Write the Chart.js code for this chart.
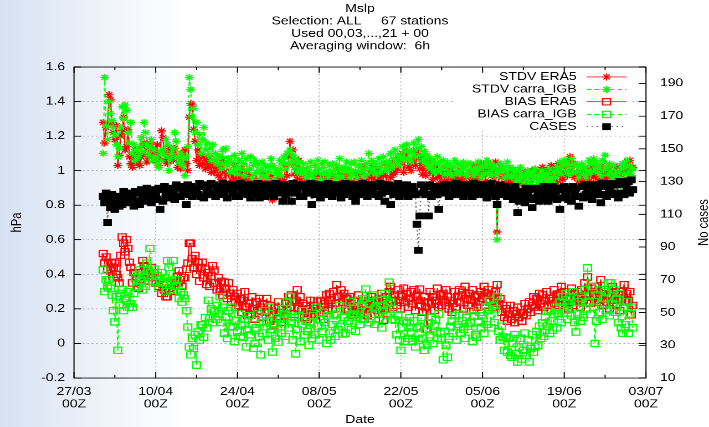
<!DOCTYPE html>
<html>
<head>
<meta charset="utf-8">
<title>Mslp scores</title>
<script src="https://cdn.jsdelivr.net/npm/chart.js@4/dist/chart.umd.min.js"></script>
<style>
  html, body {
    margin: 0; padding: 0; width: 709px; height: 427px; overflow: hidden;
    background: linear-gradient(to right, #d6e1f2 0px, #e7eef8 70px, #f7f9fd 140px, #ffffff 190px);
  }
  /* the chart is laid out on a 640x480 page and stretched to 709x427 */
  #wrap {
    position: absolute; left: 0; top: 0; width: 640px; height: 480px;
    transform: scale(1.1078125, 0.8895833); transform-origin: 0 0;
  }
</style>
</head>
<body>
<div id="wrap"><canvas id="c" width="640" height="480"></canvas></div>
<script>
// 6-hourly scores, 01/04 00Z .. 30/06 18Z (x = days after 27/03 00Z)
const FIRST_DAY = 5;
const STEP_DAYS = 0.25;

const STDV_ERA5 = [
  1.28,1.16,1.25,1.27, 1.44,1.41,1.28,1.22, 1.18,1.26,1.03,1.09, 1.20,1.23,1.31,1.12, 1.14,1.24,1.08,1.04,
  1.02,1.07,1.12,1.05, 1.10,1.03,1.08,1.14, 1.16,1.09,1.05,1.13, 1.16,1.08,1.12,1.06, 1.10,1.15,1.03,1.07,
  1.23,1.19,1.06,1.10, 1.04,1.13,1.08,1.11, 1.06,1.13,1.09,1.02, 1.07,1.01,1.10,1.05, 1.12,1.04,1.00,1.31,
  1.39,1.38,1.24,1.17, 1.06,1.12,1.03,1.09, 1.04,1.08,1.01,1.06, 1.02,1.07,0.99,1.04, 0.99,1.05,1.01,0.97,
  1.02,0.95,1.06,0.99, 0.93,1.04,0.98,0.91, 0.99,0.94,1.03,0.96, 0.90,0.98,0.93,1.01, 0.95,0.88,0.99,0.92,
  0.97,0.90,0.94,0.86, 0.92,0.99,0.89,0.95, 0.87,0.93,0.98,0.90, 0.94,0.85,0.91,0.97, 0.83,0.92,0.88,0.95,
  0.99,0.91,0.96,0.89, 0.94,1.03,0.97,1.08, 1.17,1.04,1.12,0.98, 1.02,0.95,1.06,0.92, 0.97,0.90,0.95,0.87,
  0.93,0.98,0.88,0.94, 0.90,0.96,0.92,0.99, 0.95,0.89,0.97,0.93, 0.98,0.92,0.87,0.95, 0.91,0.97,0.94,0.89,
  0.96,1.01,0.92,0.98, 0.89,0.95,0.99,0.93, 0.97,0.91,0.94,0.88, 0.93,0.99,0.90,0.96, 0.98,0.92,1.02,0.94,
  0.91,0.97,0.93,1.00, 0.96,1.03,0.94,0.99, 1.01,0.95,0.98,0.92, 0.97,1.04,0.93,1.00, 1.02,0.96,1.05,0.98,
  0.99,1.06,1.01,1.08, 1.04,1.10,0.99,1.07, 1.11,1.02,1.06,1.00, 1.05,1.11,1.03,1.08, 1.10,1.01,1.07,0.98,
  1.04,0.97,1.06,1.01, 0.99,1.05,0.95,1.02, 1.03,0.96,1.00,0.93, 0.97,1.02,0.94,0.99, 0.92,0.98,1.01,0.95,
  0.99,0.93,0.97,0.90, 0.95,1.00,0.92,0.97, 0.90,0.96,0.99,0.93, 0.98,0.92,1.03,0.96, 1.02,0.95,0.99,1.04,
  0.97,1.03,0.94,1.00, 1.05,0.98,1.02,0.96, 1.00,1.05,0.645,0.99, 1.02,0.96,0.99,0.93, 0.97,0.91,0.95,0.99,
  0.93,0.97,0.90,0.95, 0.98,0.92,0.96,0.89, 0.94,0.99,0.91,0.96, 0.97,0.93,1.00,0.95, 1.01,0.96,0.99,0.94,
  0.97,1.02,0.94,0.99, 1.00,0.86,0.97,1.03, 0.95,1.01,0.98,0.93, 1.04,0.97,1.02,0.95, 0.99,1.05,0.97,1.03,
  1.08,1.00,1.04,0.96, 0.98,1.03,0.94,1.00, 0.95,0.99,0.92,0.97, 1.01,0.94,0.99,1.03, 0.96,1.02,0.97,0.93,
  1.00,0.95,1.03,0.98, 0.94,1.00,0.96,1.02, 0.99,0.93,0.98,0.95, 1.02,0.97,0.94,1.00, 0.96,1.03,0.99,1.05,
  1.01,1.06,0.97,1.02
];

const STDV_CARRA = [
  1.10,1.54,1.26,1.18, 1.40,1.33,1.29,1.25, 1.21,1.15,1.08,1.13, 1.25,1.37,1.30,1.38, 1.35,1.22,1.16,1.28,
  1.10,1.15,1.06,1.12, 1.08,1.14,1.19,1.11, 1.28,1.22,1.15,1.09, 1.13,1.18,1.06,1.12, 1.08,1.04,1.02,1.11,
  1.06,1.12,1.09,1.18, 1.15,1.00,1.07,1.10, 1.13,1.22,1.17,1.08, 1.05,1.10,1.03,1.07, 0.97,1.08,1.14,1.54,
  1.47,1.31,1.36,1.22, 1.28,1.15,1.21,1.10, 1.18,1.25,1.12,1.16, 1.09,1.13,1.06,1.15, 1.06,1.10,1.04,1.08,
  1.08,1.01,1.12,1.04, 1.13,1.03,1.07,0.99, 1.05,1.00,1.09,1.02, 0.98,1.06,1.01,1.10, 1.04,0.97,1.07,1.00,
  1.01,1.08,0.96,1.03, 1.06,0.99,1.04,0.95, 1.00,1.05,0.97,1.03, 0.96,1.02,0.99,1.07, 1.03,0.95,1.01,0.98,
  1.00,1.06,0.97,1.04, 1.08,1.01,1.10,1.04, 1.12,1.05,1.09,1.02, 1.07,0.99,1.05,1.01, 0.98,1.04,1.00,0.96,
  1.02,0.97,1.05,0.99, 0.96,1.03,0.99,1.06, 1.01,0.95,1.04,0.98, 1.05,0.99,0.96,1.03, 0.98,1.04,1.00,0.95,
  1.03,0.97,1.07,1.00, 0.96,1.02,0.99,1.05, 1.01,0.96,1.04,0.98, 1.05,1.00,0.96,1.03, 0.99,1.06,1.01,0.97,
  1.04,0.98,1.10,1.01, 1.06,1.00,1.04,0.98, 1.02,1.07,0.99,1.04, 1.08,1.01,1.05,1.00, 1.04,1.10,1.02,1.07,
  1.12,1.05,1.09,1.03, 1.08,1.14,1.06,1.11, 1.15,1.07,1.12,1.05, 1.10,1.16,1.08,1.13, 1.18,1.09,1.14,1.06,
  1.11,1.04,1.09,1.02, 1.07,1.01,1.05,0.99, 1.04,1.08,1.00,1.05, 1.01,1.06,0.98,1.03, 1.05,0.99,1.03,0.97,
  1.02,1.06,0.99,1.04, 0.98,1.03,1.00,1.05, 1.02,0.97,1.04,0.99, 1.04,1.00,0.97,1.02, 0.99,1.05,1.01,0.96,
  1.03,0.98,1.02,1.06, 0.99,1.04,0.97,1.01, 1.03,0.98,0.60,1.00, 1.04,0.99,1.02,0.96, 1.00,1.05,0.97,1.02,
  0.96,1.01,0.98,0.94, 1.00,0.95,1.02,0.97, 0.93,0.98,0.95,1.00, 0.97,0.92,0.99,0.95, 1.01,0.96,0.93,0.98,
  0.95,1.00,0.97,0.92, 0.98,0.94,1.01,0.96, 0.93,0.99,0.96,1.02, 1.00,1.05,0.98,1.03, 1.06,1.00,1.04,0.98,
  1.02,1.07,0.99,1.04, 0.99,1.03,0.96,1.01, 1.04,0.98,1.02,0.96, 1.00,1.06,0.99,1.04, 1.07,1.01,1.05,0.99,
  1.03,0.97,1.06,1.00, 1.09,1.02,0.98,1.04, 1.00,0.95,1.03,0.97, 0.99,0.86,0.96,1.01, 1.04,0.98,1.02,1.06,
  0.99,1.03,0.97,1.01
];

const BIAS_ERA5 = [
  0.52,0.465,0.50,0.43, 0.37,0.42,0.47,0.44, 0.465,0.40,0.38,0.35, 0.51,0.616,0.58,0.53, 0.60,0.55,0.47,0.44,
  0.35,0.41,0.38,0.33, 0.32,0.37,0.41,0.48, 0.45,0.39,0.42,0.36, 0.40,0.44,0.38,0.41, 0.35,0.39,0.33,0.37,
  0.29,0.34,0.31,0.27, 0.27,0.32,0.30,0.34, 0.30,0.36,0.35,0.39, 0.42,0.37,0.33,0.38, 0.38,0.43,0.465,0.58,
  0.58,0.49,0.44,0.51, 0.40,0.47,0.36,0.44, 0.47,0.38,0.43,0.34, 0.41,0.33,0.39,0.45, 0.425,0.35,0.31,0.38,
  0.30,0.36,0.28,0.355, 0.32,0.26,0.35,0.29, 0.24,0.31,0.27,0.21, 0.29,0.22,0.26,0.18, 0.25,0.30,0.21,0.16,
  0.23,0.17,0.27,0.20, 0.14,0.24,0.19,0.26, 0.21,0.15,0.23,0.18, 0.26,0.19,0.13,0.22, 0.17,0.107,0.21,0.15,
  0.24,0.18,0.12,0.20, 0.16,0.23,0.19,0.27, 0.21,0.28,0.24,0.17, 0.25,0.31,0.20,0.27, 0.19,0.23,0.15,0.22,
  0.14,0.20,0.25,0.17, 0.22,0.16,0.19,0.24, 0.18,0.25,0.21,0.14, 0.23,0.28,0.19,0.29, 0.25,0.20,0.30,0.23,
  0.34,0.27,0.22,0.31, 0.24,0.29,0.20,0.26, 0.19,0.27,0.23,0.16, 0.25,0.18,0.22,0.28, 0.17,0.23,0.19,0.14,
  0.22,0.16,0.25,0.20, 0.27,0.21,0.17,0.24, 0.19,0.26,0.22,0.29, 0.135,0.20,0.27,0.23, 0.30,0.33,0.25,0.21,
  0.28,0.22,0.31,0.25, 0.20,0.27,0.32,0.24, 0.29,0.21,0.26,0.30, 0.23,0.31,0.19,0.27, 0.25,0.315,0.22,0.18,
  0.27,0.21,0.08,0.24, 0.30,0.23,0.27,0.19, 0.25,0.32,0.21,0.28, 0.22,0.29,0.24,0.31, 0.27,0.20,0.25,0.18,
  0.23,0.30,0.21,0.27, 0.31,0.24,0.28,0.20, 0.33,0.26,0.22,0.29, 0.25,0.31,0.19,0.27, 0.21,0.28,0.24,0.30,
  0.26,0.33,0.22,0.29, 0.31,0.24,0.28,0.21, 0.25,0.30,0.34,0.23, 0.26,0.18,0.22,0.15, 0.20,0.13,0.17,0.22,
  0.14,0.19,0.12,0.17, 0.21,0.15,0.18,0.13, 0.17,0.23,0.16,0.20, 0.24,0.18,0.22,0.27, 0.21,0.26,0.19,0.29,
  0.23,0.28,0.21,0.25, 0.30,0.22,0.26,0.19, 0.25,0.31,0.23,0.28, 0.22,0.29,0.33,0.26, 0.30,0.23,0.27,0.20,
  0.26,0.32,0.22,0.29, 0.24,0.30,0.27,0.21, 0.31,0.25,0.35,0.28, 0.385,0.29,0.23,0.32, 0.27,0.33,0.24,0.30,
  0.25,0.37,0.29,0.22, 0.31,0.24,0.28,0.20, 0.27,0.33,0.25,0.30, 0.22,0.28,0.19,0.26, 0.30,0.34,0.24,0.29,
  0.25,0.30,0.165,0.22
];

const BIAS_CARRA = [
  0.425,0.30,0.37,0.33, 0.37,0.32,0.28,0.19, 0.125,0.27,-0.04,0.22, 0.29,0.31,0.19,0.26, 0.25,0.30,0.21,0.23,
  0.21,0.29,0.38,0.33, 0.40,0.425,0.36,0.31, 0.38,0.33,0.465,0.42, 0.55,0.41,0.36,0.43, 0.355,0.39,0.32,0.37,
  0.41,0.35,0.38,0.30, 0.48,0.44,0.31,0.36, 0.48,0.37,0.33,0.37, 0.26,0.30,0.24,0.28, 0.26,0.19,0.095,-0.02,
  -0.066,0.03,-0.03,0.05, -0.125,0.066,0.02,0.11, 0.107,0.037,0.15,0.09, 0.25,0.147,0.20,0.12, 0.19,0.14,0.22,0.17,
  0.27,0.12,0.21,0.06, 0.15,0.03,0.19,0.10, 0.21,0.095,0.01,0.13, 0.066,0.17,0.04,0.11, 0.037,0.14,-0.02,0.08,
  0.16,0.05,0.11,-0.03, 0.00,0.09,0.17,0.04, -0.066,0.06,0.12,0.19, 0.13,0.02,0.21,0.08, -0.05,0.10,0.03,0.15,
  0.008,0.14,0.06,0.20, 0.17,0.04,0.24,0.09, 0.27,0.12,0.02,0.15, -0.06,0.08,0.16,0.01, 0.11,0.19,0.05,0.13,
  0.07,-0.01,0.12,0.03, 0.16,0.05,0.21,0.10, 0.02,0.14,0.07,0.18, 0.12,0.00,0.16,0.06, 0.02,0.11,0.17,0.04,
  0.165,0.08,0.22,0.10, 0.055,0.15,0.06,0.19, 0.13,0.24,0.08,0.17, 0.20,0.07,0.15,0.25, 0.11,0.22,0.14,0.26,
  0.315,0.19,0.12,0.23, 0.17,0.28,0.11,0.21, 0.25,0.14,0.22,0.09, 0.19,0.29,0.16,0.23, 0.355,0.24,0.14,0.20,
  0.135,0.05,0.16,0.02, -0.04,0.09,0.13,0.01, 0.12,0.03,0.15,0.06, 0.01,0.13,-0.02,0.09, 0.02,0.10,0.15,0.03,
  -0.04,0.08,-0.01,0.12, 0.05,0.15,0.00,0.10, 0.14,0.03,0.17,0.06, 0.02,-0.095,0.07,-0.01, -0.08,0.04,0.10,0.13,
  0.06,0.16,0.02,0.11, 0.17,0.06,0.13,0.08, 0.03,0.15,0.10,0.19, 0.12,0.01,0.16,0.05, 0.037,0.12,0.18,0.09,
  0.16,0.06,0.21,0.11, 0.19,0.25,0.09,0.22, 0.12,0.20,0.27,0.07, 0.02,0.10,0.037,-0.04, 0.037,-0.05,0.03,-0.07,
  -0.08,0.00,0.05,-0.06, -0.107,-0.02,0.03,-0.09, -0.04,0.06,-0.07,0.02, -0.107,-0.03,0.05,-0.05, -0.02,0.07,-0.01,0.10,
  0.03,0.12,0.04,0.15, 0.10,0.19,0.06,0.13, 0.078,0.17,0.21,0.09, 0.176,0.24,0.12,0.27, 0.19,0.29,0.14,0.23,
  0.27,0.16,0.30,0.12, 0.066,0.17,0.24,0.13, 0.26,0.15,0.31,0.20, 0.437,0.24,0.17,0.33, 0.21,0.00,0.13,0.28,
  0.18,0.31,0.14,0.26, 0.30,0.19,0.35,0.16, 0.35,0.23,0.31,0.18, 0.26,0.12,0.29,0.09, 0.06,0.21,0.11,0.24,
  0.06,0.17,0.21,0.09
];

const CASES = [
  121,117,123,105, 119,114,122,116, 113,118,121,115, 120,116,124,118, 122,117,123,120,
  121,115,124,118, 123,116,125,119, 122,118,126,120, 124,117,125,119, 123,119,126,113,
  125,118,127,121, 124,120,126,122, 125,119,128,121, 126,121,127,123, 125,116,128,122,
  127,121,126,123, 126,122,129,121, 127,120,128,124, 126,123,129,122, 128,121,127,124,
  127,122,129,123, 126,120,128,125, 128,123,127,121, 127,121,129,124, 126,123,128,122,
  128,120,127,125, 127,122,129,120, 126,124,128,121, 128,122,127,123, 127,121,129,124,
  126,123,128,118, 128,122,127,124, 127,118,129,123, 126,124,128,121, 128,121,127,123,
  127,123,129,116, 126,122,128,124, 128,120,127,123, 127,124,129,122, 126,121,128,124,
  128,123,127,120, 127,122,129,124, 126,124,128,121, 128,118,127,123, 127,122,129,124,
  126,121,128,123, 128,124,127,122, 127,121,129,123, 126,118,128,124, 128,116,127,122,
  127,123,129,121, 126,122,128,124, 128,121,127,123, 127,124,122,104, 88,109,128,123,
  126,122,127,109, 128,121,127,123, 127,122,113,124, 126,123,128,124, 128,121,127,122,
  127,124,129,123, 126,122,128,121, 128,123,127,124, 127,121,129,122, 126,124,128,123,
  128,122,127,120, 127,123,129,124, 126,121,116,123, 128,122,127,124, 127,121,125,121,
  125,119,127,122, 111,118,124,120, 124,117,126,121, 125,120,114,119, 126,120,124,118,
  125,119,127,121, 126,118,125,120, 127,121,124,119, 126,113,125,120, 127,121,126,119,
  125,118,127,122, 126,121,115,121, 127,120,128,122, 126,121,127,119, 128,122,126,123,
  127,117,129,122, 128,121,127,124, 129,123,128,122, 128,120,130,123, 129,122,128,124,
  130,123,131,125
];

const SERIES_NAMES = ['STDV ERA5', 'STDV carra_IGB', 'BIAS ERA5', 'BIAS carra_IGB', 'CASES'];
const TITLE_LINES = ['Mslp', 'Selection: ALL     67 stations', 'Used 00,03,...,21 + 00', 'Averaging window:  6h'];
const X_TICK_DAYS = [0, 14, 28, 42, 56, 70, 84, 98];
const X_TICK_DATES = ['27/03', '10/04', '24/04', '08/05', '22/05', '05/06', '19/06', '03/07'];
const X_TICK_HOUR = '00Z';
const X_MINOR_DAYS = [7, 21, 35, 49, 63, 77, 91];
const Y_TICKS = [-0.2, 0, 0.2, 0.4, 0.6, 0.8, 1, 1.2, 1.4, 1.6];
const Y_TICK_LABELS = ['-0.2', '0', '0.2', '0.4', '0.6', '0.8', '1', '1.2', '1.4', '1.6'];
const Y2_TICKS = [10, 30, 50, 70, 90, 110, 130, 150, 170, 190];
const X_TITLE = 'Date';
const Y_TITLE = 'hPa';
const Y2_TITLE = 'No cases';

const RED = '#ff0000', GREEN = '#00ff00', INK = '#000000';
const FONT = '12.6px "Liberation Sans", Arial, Helvetica, sans-serif';

// line / marker look of each series (same order as SERIES_NAMES)
const LOOKS = [
  { values: STDV_ERA5,  axis: 'y',  color: RED,   dash: [],     marker: 'star', r: 4,   fill: RED },
  { values: STDV_CARRA, axis: 'y',  color: GREEN, dash: [4, 3], marker: 'star', r: 4,   fill: GREEN },
  { values: BIAS_ERA5,  axis: 'y',  color: RED,   dash: [],     marker: 'rect', r: 5,   fill: 'rgba(0,0,0,0)' },
  { values: BIAS_CARRA, axis: 'y',  color: GREEN, dash: [4, 3], marker: 'rect', r: 5,   fill: 'rgba(0,0,0,0)' },
  { values: CASES,      axis: 'y2', color: '#5a5a5a', dash: [1.5, 3], marker: 'rect', r: 4.6, fill: INK, mark: INK }
];

const toPoints = vals => vals.map((v, i) => ({ x: FIRST_DAY + i * STEP_DAYS, y: v }));

const datasets = LOOKS.map((s, i) => ({
  label: SERIES_NAMES[i],
  data: toPoints(s.values),
  yAxisID: s.axis,
  borderColor: s.color,
  borderWidth: 1.1,
  borderDash: s.dash,
  tension: 0,
  fill: false,
  pointStyle: s.marker,
  pointRadius: s.r,
  pointBorderWidth: 1.25,
  pointBorderColor: s.mark || s.color,
  pointBackgroundColor: s.fill,
  order: LOOKS.length - 1 - i
}));

function label(ctx, str, x, y, align, rotate) {
  ctx.save();
  ctx.font = FONT;
  ctx.fillStyle = INK;
  ctx.textAlign = align;
  ctx.textBaseline = 'middle';
  ctx.translate(x, y);
  if (rotate) ctx.rotate(-Math.PI / 2);
  ctx.fillText(str, 0, 0);
  ctx.restore();
}

function seg(ctx, x1, y1, x2, y2) {
  ctx.beginPath(); ctx.moveTo(x1, y1); ctx.lineTo(x2, y2); ctx.stroke();
}

function marker(ctx, look, x, y) {
  ctx.save();
  ctx.setLineDash([]);
  ctx.lineWidth = 1.25;
  ctx.strokeStyle = look.mark || look.color;
  ctx.fillStyle = look.fill;
  const r = look.r;
  ctx.beginPath();
  if (look.marker === 'star') {
    const d = r * Math.SQRT1_2;
    ctx.moveTo(x - r, y); ctx.lineTo(x + r, y);
    ctx.moveTo(x, y - r); ctx.lineTo(x, y + r);
    ctx.moveTo(x - d, y - d); ctx.lineTo(x + d, y + d);
    ctx.moveTo(x - d, y + d); ctx.lineTo(x + d, y - d);
  } else {
    const h = r * Math.SQRT1_2;
    ctx.rect(x - h, y - h, 2 * h, 2 * h);
    ctx.fill();
  }
  ctx.stroke();
  ctx.restore();
}

const gnuFrame = {
  id: 'gnuFrame',
  beforeDatasetsDraw(chart) {
    const { ctx, chartArea: a, scales: { x, y } } = chart;
    ctx.save();
    ctx.strokeStyle = '#a6a6a6';
    ctx.lineWidth = 0.8;
    ctx.setLineDash([1.5, 2.5]);
    Y_TICKS.forEach(v => {
      if (v <= Y_TICKS[0] || v >= Y_TICKS[Y_TICKS.length - 1]) return;
      const py = y.getPixelForValue(v);
      seg(ctx, a.left, py, a.right, py);
    });
    X_TICK_DAYS.forEach(d => {
      if (d <= x.min || d >= x.max) return;
      const px = x.getPixelForValue(d);
      seg(ctx, px, a.top, px, a.bottom);
    });
    ctx.restore();
  },
  afterDatasetsDraw(chart) {
    const { ctx, chartArea: a, scales: { x, y, y2 } } = chart;

    // key, drawn on an opaque box in the upper right corner
    ctx.save();
    ctx.fillStyle = '#ffffff';
    ctx.fillRect(410.5, a.top + 0.8, 161, 71.5);
    ctx.restore();
    LOOKS.forEach((look, i) => {
      const ky = 86.5 + 14 * i;
      label(ctx, SERIES_NAMES[i], 520.5, ky, 'right');
      ctx.save();
      ctx.strokeStyle = look.color;
      ctx.lineWidth = 1.1;
      ctx.setLineDash(look.dash);
      seg(ctx, 529.5, ky, 565.6, ky);
      ctx.restore();
      marker(ctx, look, 547.5, ky);
    });

    // border and inward tics
    ctx.save();
    ctx.strokeStyle = INK;
    ctx.lineWidth = 1;
    ctx.setLineDash([]);
    ctx.strokeRect(a.left, a.top, a.right - a.left, a.bottom - a.top);
    const major = 6.5, minor = 3.5;
    X_TICK_DAYS.forEach(d => {
      const px = x.getPixelForValue(d);
      seg(ctx, px, a.bottom, px, a.bottom - major);
      seg(ctx, px, a.top, px, a.top + major);
    });
    X_MINOR_DAYS.forEach(d => {
      const px = x.getPixelForValue(d);
      seg(ctx, px, a.bottom, px, a.bottom - minor);
      seg(ctx, px, a.top, px, a.top + minor);
    });
    Y_TICKS.forEach(v => {
      const py = y.getPixelForValue(v);
      seg(ctx, a.left, py, a.left + major, py);
      seg(ctx, a.right, py, a.right - major, py);
    });
    Y2_TICKS.forEach(v => {
      const py = y2.getPixelForValue(v);
      seg(ctx, a.right, py, a.right - major, py);
    });
    ctx.restore();

    // tic labels
    Y_TICKS.forEach((v, i) => label(ctx, Y_TICK_LABELS[i], a.left - 8, y.getPixelForValue(v), 'right'));
    Y2_TICKS.forEach(v => label(ctx, String(v), a.right + 12.7, y2.getPixelForValue(v), 'left'));
    X_TICK_DAYS.forEach((d, i) => {
      const px = x.getPixelForValue(d);
      label(ctx, X_TICK_DATES[i], px, a.bottom + 15.6, 'center');
      label(ctx, X_TICK_HOUR, px, a.bottom + 29.8, 'center');
    });

    // axis titles and heading
    const cx = (a.left + a.right) / 2;
    label(ctx, X_TITLE, cx, a.bottom + 47.2, 'center');
    label(ctx, Y_TITLE, 15.3, (a.top + a.bottom) / 2, 'center', true);
    label(ctx, Y2_TITLE, 635.5, (a.top + a.bottom) / 2, 'center', true);
    TITLE_LINES.forEach((t, i) => label(ctx, t, cx, 10 + 14 * i, 'center'));
  }
};

new Chart(document.getElementById('c'), {
  type: 'line',
  data: { datasets },
  options: {
    responsive: false,
    devicePixelRatio: 2,
    animation: false,
    layout: { padding: { left: 66.8, right: 56.9, top: 75.3, bottom: 55.1 } },
    plugins: { legend: { display: false }, tooltip: { enabled: false }, title: { display: false } },
    scales: {
      x:  { type: 'linear', min: 0, max: 98, display: false },
      y:  { type: 'linear', min: -0.2, max: 1.6, display: false },
      y2: { type: 'linear', position: 'right', min: 10, max: 200, display: false }
    }
  },
  plugins: [gnuFrame]
});
</script>
</body>
</html>
